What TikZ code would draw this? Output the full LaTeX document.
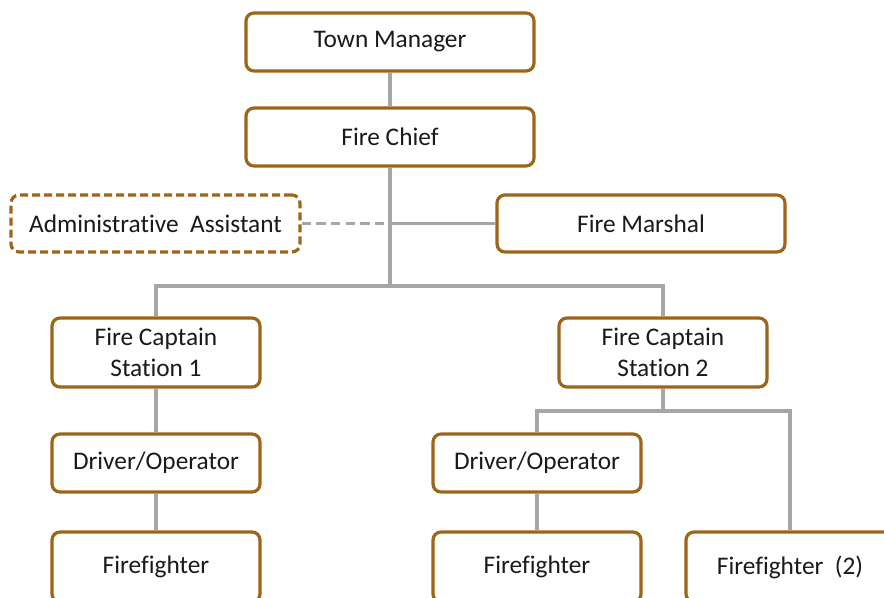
\documentclass[tikz,border=0pt]{standalone}
\usepackage{fontspec}
\setmainfont[Ligatures=NoCommon]{Carlito}
\usepackage{tikz}
\usetikzlibrary{positioning}

\definecolor{boxbrown}{RGB}{156,101,26}
\definecolor{linkgray}{RGB}{166,166,166}
\definecolor{inkdark}{RGB}{25,25,30}

\begin{document}
\begin{tikzpicture}[
    x=0.75pt, y=-0.75pt,
    post/.style={draw=boxbrown, line width=2.4pt, rounded corners=6pt,
                 fill=white, text=inkdark, font=\fontsize{19}{23}\selectfont,
                 align=center, inner sep=0pt},
    staff/.style={post, dash pattern=on 6pt off 3pt},
    link/.style={linkgray, line width=2.6pt},
    dotlink/.style={link, dash pattern=on 7pt off 4pt}
]
\useasboundingbox (0,0) rectangle (884,597);

% ---------- junction points ----------
\coordinate (bus)  at (390,286);
\coordinate (bus2) at (663,411);

% ---------- posts ----------
\node[post, minimum width=288*0.75pt, minimum height=58*0.75pt] (manager) at (390,42)  {Town Manager};
\node[post, minimum width=288*0.75pt, minimum height=58*0.75pt] (chief)   at (390,137) {Fire Chief};
\node[staff, minimum width=289*0.75pt, minimum height=57*0.75pt] (assist) at (155.5,223.5) {Administrative\ \ Assistant};
\node[post, minimum width=288*0.75pt, minimum height=57*0.75pt] (marshal) at (641,223.5) {Fire Marshal};

\node[post, minimum width=208*0.75pt, minimum height=69*0.75pt] (cap1) at (156,352.5) {Fire Captain\\Station 1};
\node[post, minimum width=208*0.75pt, minimum height=69*0.75pt] (cap2) at (663,352.5) {Fire Captain\\Station 2};

\node[post, minimum width=208*0.75pt, minimum height=58*0.75pt] (drv1) at (156,463) {Driver/Operator};
\node[post, minimum width=208*0.75pt, minimum height=58*0.75pt] (drv2) at (537,463) {Driver/Operator};

\node[post, minimum width=208*0.75pt, minimum height=70*0.75pt] (ff1) at (156,567) {Firefighter};
\node[post, minimum width=208*0.75pt, minimum height=70*0.75pt] (ff2) at (537,567) {Firefighter};
\node[post, minimum width=208*0.75pt, minimum height=70*0.75pt] (ff3) at (790,567) {Firefighter\ \ (2)};

\coordinate (side) at (chief.south |- marshal.west);

% ---------- links ----------
\draw[link] (manager.south) -- (chief.north);
\draw[link] (chief.south) -- (bus) -| (cap1.north);
\draw[link] (bus) -| (cap2.north);
\draw[dotlink] (assist.east) -- (side);
\draw[link] (side) -- (marshal.west);

\draw[link] (cap1.south) -- (drv1.north);
\draw[link] (drv1.south) -- (ff1.north);

\draw[link] (cap2.south) -- (bus2) -| (drv2.north);
\draw[link] (bus2) -| (ff3.north);
\draw[link] (drv2.south) -- (ff2.north);

\end{tikzpicture}
\end{document}
